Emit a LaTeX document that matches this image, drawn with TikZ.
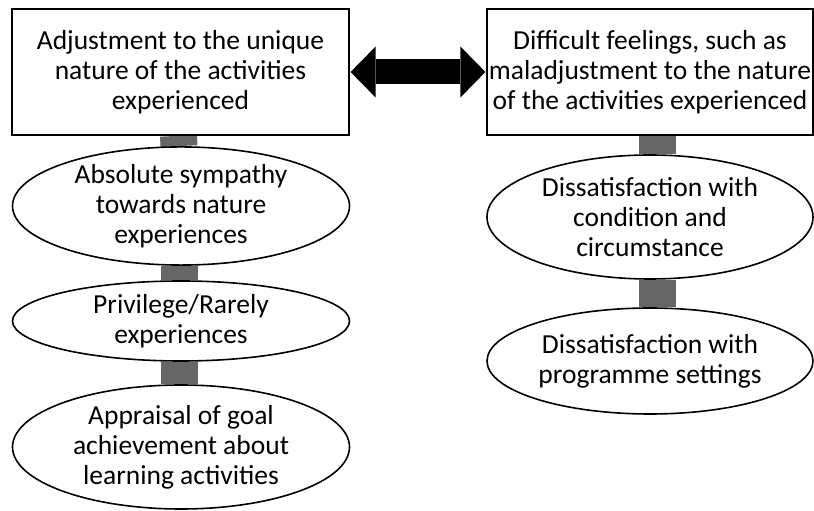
\documentclass[tikz,border=0pt]{standalone}
\usepackage{fontspec}
\setmainfont{Carlito}
\usepackage{tikz}
\usetikzlibrary{positioning, shapes.geometric, arrows.meta, backgrounds}
\definecolor{linkgray}{RGB}{102,102,102}

\begin{document}
\begin{tikzpicture}[x=1pt, y=1pt, node distance=130pt]
    % Define styles
    \tikzstyle{theme} = [rectangle, minimum height=126pt, inner sep=0pt, align=center, draw=black, line width=1.6pt, fill=white, font=\fontsize{27.5}{30}\selectfont]
    \tikzstyle{aspect} = [ellipse, inner sep=0pt, align=center, draw=black, line width=1.6pt, fill=white, font=\fontsize{27.5}{30}\selectfont]
    \tikzstyle{link} = [linkgray, line width=37pt]
    \tikzstyle{twoway} = [line width=25pt, {Triangle[width=51pt, length=25pt, line width=0pt]}-{Triangle[width=51pt, length=25pt, line width=0pt]}]

    \useasboundingbox (0,0) rectangle (814,511);

    % Nodes
    \node (adjust) [theme, minimum width=337pt] at (180.5,439) {Adjustment to the unique\\nature of the activities\\experienced};
    \node (difficult) [theme, minimum width=326pt, right of=adjust, xshift=339.5pt] {Difficult feelings, such as\\maladjustment to the nature\\of the activities experienced};

    \node (sympathy) [aspect, minimum width=337pt, minimum height=101pt, below of=adjust, yshift=-4pt, xshift=0.5pt] {Absolute sympathy\\towards nature\\experiences};
    \node (privilege) [aspect, minimum width=337pt, minimum height=80pt, below of=sympathy, yshift=15pt] {Privilege/Rarely\\experiences};
    \node (appraisal) [aspect, minimum width=337pt, minimum height=124pt, below of=privilege, yshift=4pt] {Appraisal of goal\\achievement about\\learning activities};

    \node (condition) [aspect, minimum width=326pt, minimum height=124pt, below of=difficult, yshift=-15pt] {Dissatisfaction with\\condition and\\circumstance};
    \node (settings) [aspect, minimum width=326pt, minimum height=106pt, below of=condition, yshift=-14pt] {Dissatisfaction with\\programme settings};

    % Arrows
    \begin{scope}[on background layer]
        \draw [link] ([xshift=-2pt]adjust.south) -- ([xshift=-2pt]sympathy.north);
        \draw [link] ([xshift=-2pt]sympathy.south) -- ([xshift=-2pt]privilege.north);
        \draw [link] ([xshift=-2pt]privilege.south) -- ([xshift=-2pt]appraisal.north);
        \draw [link] ([xshift=7.5pt]difficult.south) -- ([xshift=7.5pt]condition.north);
        \draw [link] ([xshift=7.5pt]condition.south) -- ([xshift=7.5pt]settings.north);
    \end{scope}
    \draw [twoway] ([xshift=0.8pt]adjust.east) -- ([xshift=-0.8pt]difficult.west);
\end{tikzpicture}
\end{document}
